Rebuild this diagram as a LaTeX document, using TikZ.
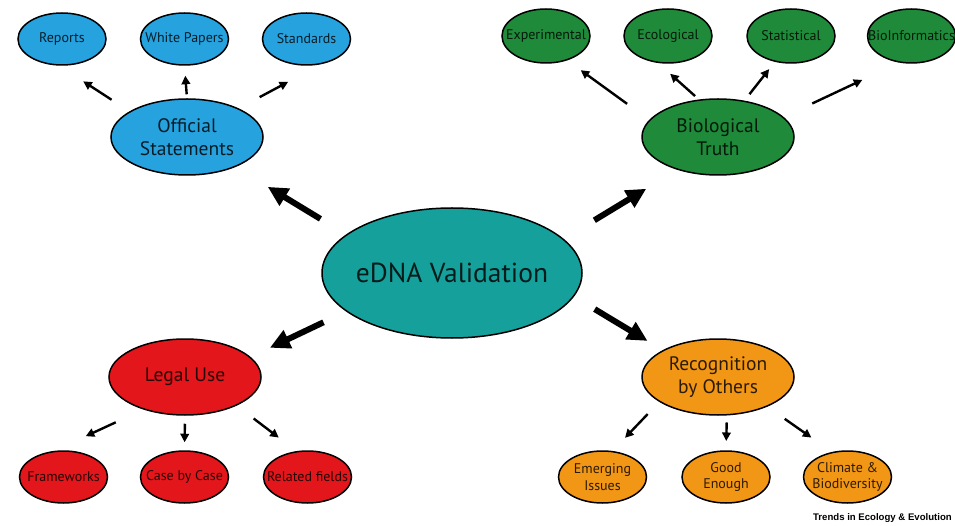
\documentclass[tikz,border=0pt]{standalone}
\usepackage{fontspec}
\usetikzlibrary{shapes.geometric,arrows.meta}
\newfontfamily\bubblefont{PT Sans}
\newfontfamily\creditfont{Liberation Sans}

\definecolor{cHub}{RGB}{22,160,155}
\definecolor{cBlue}{RGB}{38,162,222}
\definecolor{cGreen}{RGB}{30,138,58}
\definecolor{cRed}{RGB}{226,22,27}
\definecolor{cOrange}{RGB}{242,150,22}

\tikzset{
  bubble/.style={ellipse, draw=black, line width=1.5pt, inner sep=0pt},
  hub/.style={bubble, fill=cHub, minimum width=260pt, minimum height=130pt},
  mid/.style={bubble, minimum width=152pt, minimum height=76pt},
  leaf/.style={bubble, minimum width=88pt, minimum height=52pt},
  hubtext/.style={font=\bubblefont\fontsize{27.5}{32}\selectfont, text opacity=0.82, align=center},
  midtext/.style={font=\bubblefont\fontsize{19.5}{23}\selectfont, text opacity=0.82, align=center},
  leaftext/.style={font=\bubblefont\fontsize{14}{16.5}\selectfont, text opacity=0.82, align=center},
  bigarrow/.style={-{Triangle[length=20pt,width=19pt]}, line width=6pt},
  smallarrow/.style={-{Triangle[length=8.5pt,width=8.5pt]}, line width=2.4pt},
}

\begin{document}
\begin{tikzpicture}[x=1pt,y=-1pt]
\useasboundingbox (0,0) rectangle (955,526);

% central hub
\node[hub, label={[hubtext]center:eDNA Validation}] (hub) at (452,273) {};

% four main branches
\node[mid, fill=cBlue,   label={[midtext]center:{Official\\Statements}}] (os) at (187,137) {};
\node[mid, fill=cGreen,  label={[midtext]center:{Biological\\Truth}}]    (bt) at (718,137) {};
\node[mid, fill=cRed,    label={[midtext]center:{Legal Use}}]            (lu) at (185,377) {};
\node[mid, fill=cOrange, label={[midtext]center:{Recognition\\by Others}}] (ro) at (718,377) {};

% official statements
\node[leaf, fill=cBlue, label={[leaftext]center:Reports}]      (rep) at (62,39) {};
\node[leaf, fill=cBlue, label={[leaftext]center:White Papers}] (wp)  at (184.5,39) {};
\node[leaf, fill=cBlue, label={[leaftext]center:Standards}]    (std) at (306.5,39) {};

% biological truth
\node[leaf, fill=cGreen, minimum height=54pt, label={[leaftext]center:Experimental}]   (exp) at (546,36) {};
\node[leaf, fill=cGreen, minimum height=54pt, label={[leaftext]center:Ecological}]     (eco) at (668,36) {};
\node[leaf, fill=cGreen, minimum height=54pt, label={[leaftext]center:Statistical}]    (sta) at (791,36) {};
\node[leaf, fill=cGreen, minimum height=54pt, label={[leaftext]center:BioInformatics}] (bio) at (911.5,36) {};

% legal use
\node[leaf, fill=cRed, label={[leaftext]center:Frameworks}]     (fra) at (63.5,477) {};
\node[leaf, fill=cRed, label={[leaftext]center:Case by Case}]   (cbc) at (184.5,477) {};
\node[leaf, fill=cRed, label={[leaftext]center:Related fields}] (rel) at (307.5,477) {};

% recognition by others
\node[leaf, fill=cOrange, label={[leaftext]center:{Emerging\\Issues}}]         (eme) at (602.5,477) {};
\node[leaf, fill=cOrange, label={[leaftext]center:{Good\\Enough}}]             (goo) at (726,477) {};
\node[leaf, fill=cOrange, label={[leaftext]center:{Climate \&\\Biodiversity}}] (cli) at (847.5,477) {};

% hub to branches
\draw[bigarrow, shorten <=30pt,   shorten >=38pt]   (hub.160.8) -- (os.-32);
\draw[bigarrow, shorten <=35.8pt, shorten >=36.4pt] (hub.17.5)  -- (bt.219.2);
\draw[bigarrow, shorten <=25pt,   shorten >=21.3pt] (hub.200.3) -- (lu.17.6);
\draw[bigarrow, shorten <=24.2pt, shorten >=17.8pt] (hub.-11.7) -- (ro.154.5);

% branches to leaves
\draw[smallarrow, shorten <=21.3pt, shorten >=28.7pt] (os.156.8) -- (rep.-96);
\draw[smallarrow, shorten <=4pt,    shorten >=10pt]   (os.north) -- (wp.south);
\draw[smallarrow, shorten <=23.8pt, shorten >=37.4pt] (os.29.9)  -- (std.-60.2);

\draw[smallarrow, shorten <=27.3pt, shorten >=16.6pt] (bt.166.8) -- (exp.-49.6);
\draw[smallarrow, shorten <=5.1pt,  shorten >=16.1pt] (bt.117.6) -- (eco.-110.3);
\draw[smallarrow, shorten <=8.2pt,  shorten >=9.2pt]  (bt.54.6)  -- (sta.-122.5);
\draw[smallarrow, shorten <=31.6pt, shorten >=40.6pt] (bt.17.9)  -- (bio.-115.5);

\draw[smallarrow, shorten <=30.4pt, shorten >=35pt]   (lu.-142.1) -- (fra.110.9);
\draw[smallarrow, shorten <=8pt,    shorten >=8pt]    (lu.south)  -- (cbc.north);
\draw[smallarrow, shorten <=21.3pt, shorten >=22.3pt] (lu.-29.7)  -- (rel.113.3);

\draw[smallarrow, shorten <=16.8pt, shorten >=18.1pt] (ro.-157.6) -- (eme.69.3);
\draw[smallarrow, shorten <=7pt,    shorten >=9.3pt]  (ro.-77)    -- (goo.north);
\draw[smallarrow, shorten <=21.2pt, shorten >=25pt]   (ro.-31.1)  -- (cli.122.4);

% journal credit
\node[anchor=base east, inner sep=0pt, font=\creditfont\bfseries\fontsize{9.6}{11}\selectfont] (credit) at (952,520) {Trends in Ecology \& Evolution};
\end{tikzpicture}
\end{document}
